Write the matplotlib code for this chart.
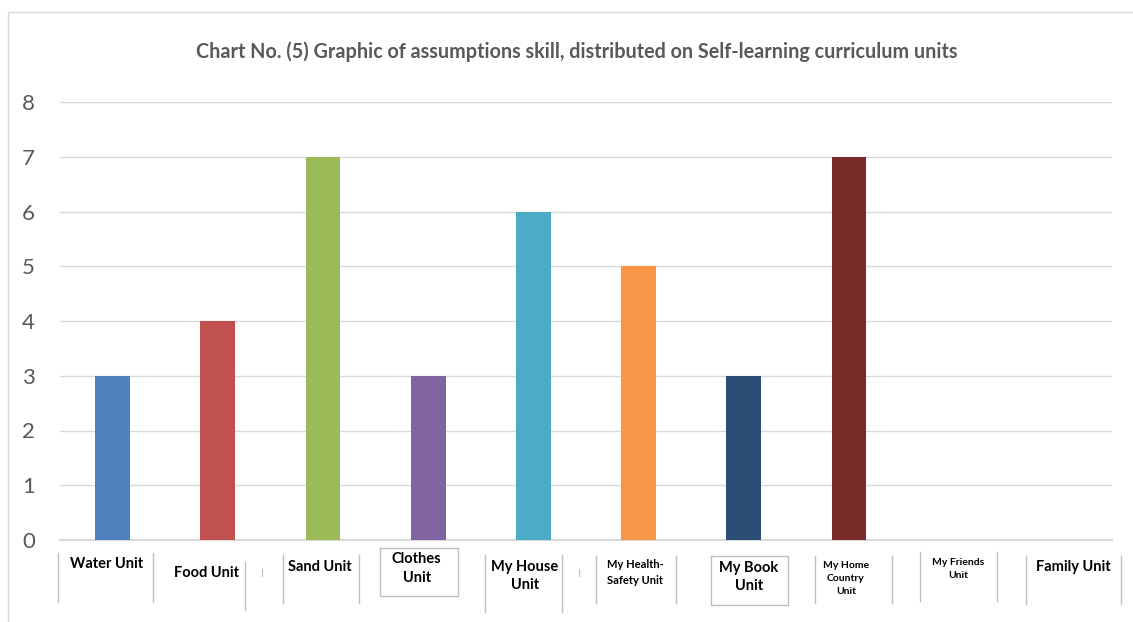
import matplotlib
matplotlib.use("Agg")
import matplotlib.pyplot as plt
from matplotlib.transforms import blended_transform_factory
from matplotlib.patches import Rectangle
from matplotlib.lines import Line2D

categories = ["Water Unit", "Food Unit", "Sand Unit", "Clothes\nUnit", "My House\nUnit",
              "My Health-\nSafety Unit", "My Book\nUnit", "My Home\nCountry\nUnit",
              "My Friends\nUnit", "Family Unit"]
values = [3, 4, 7, 3, 6, 5, 3, 7, 0, 0]
colors = ["#4F81BD", "#C0504D", "#9BBB59", "#8064A2", "#4BACC6", "#F79646",
          "#2C4D75", "#772C2A", "#4F81BD", "#C0504D"]
yticks = [0, 1, 2, 3, 4, 5, 6, 7, 8]
title = "Chart No. (5) Graphic of assumptions skill, distributed on Self-learning curriculum units"

W, H = 1133, 622
fig = plt.figure(figsize=(W / 100, H / 100), dpi=100)
fam = ["Lato", "DejaVu Sans"]

# outer chart frame
fig.add_artist(Rectangle((8 / W, -0.1), 1.2, (H - 12) / H + 0.1, transform=fig.transFigure,
                         fill=False, edgecolor="#d9d9d9", linewidth=1.0))

ax = fig.add_axes([60 / W, (H - 540) / H, 1052 / W, 438 / H])
x = list(range(len(categories)))
ax.bar(x, values, width=0.33, color=colors, zorder=3)
ax.set_xlim(-0.5, len(categories) - 0.5)
ax.set_ylim(0, 8)
ax.set_yticks(yticks)
ax.set_yticklabels([str(t) for t in yticks], fontsize=16, color="#595959", family=fam)
ax.tick_params(axis="y", length=0, pad=18)
ax.tick_params(axis="x", length=0, labelbottom=False)
ax.grid(axis="y", color="#d9d9d9", linewidth=1.0, zorder=0)
for s in ["top", "right", "left"]:
    ax.spines[s].set_visible(False)
ax.spines["bottom"].set_color("#d9d9d9")
ax.spines["bottom"].set_linewidth(1.5)

fig.text(577 / W, 1 - 52 / H, title, ha="center", va="center", fontsize=14.2,
         fontweight="bold", color="#595959", family=fam)

# custom category labels (pixel y positions / x offsets in data units)
tr = blended_transform_factory(ax.transData, fig.transFigure)
def fy(py):
    return 1 - py / H

label_specs = [
    # (x offset, y pixel top, fontsize, linespacing)
    (-0.06, 557, 10.5, 1.4),
    (-0.11, 566, 10.5, 1.4),
    (-0.03, 560, 10.5, 1.4),
    (-0.11, 552, 10.5, 1.5),
    (-0.08, 560, 10.5, 1.4),
    (-0.03, 559, 8, 1.5),
    (0.05, 561, 10.5, 1.4),
    (-0.03, 561, 7.5, 1.55),
    (0.04, 558, 7.5, 1.5),
    (0.13, 560, 10.5, 1.4),
]
for i, (lab, (dx, py, fs, ls)) in enumerate(zip(categories, label_specs)):
    ax.text(x[i] + dx, fy(py), lab, transform=tr, ha="center", va="top",
            fontsize=fs, fontweight="bold", color="black", family=fam,
            linespacing=ls, clip_on=False)

ppx = 1052 / len(categories)
def dxpix(px):
    return (px - 60) / ppx - 0.5

# separator lines (x pixel, y0, y1)
seps = [(58, 553, 602), (153, 553, 602), (245, 562, 610), (283, 555, 603), (359, 555, 603),
        (485, 555, 612), (562, 555, 612), (596, 556, 603), (676, 556, 603),
        (815, 556, 603), (892, 556, 603), (920, 552, 601), (997, 552, 601),
        (1026, 556, 604), (1121, 556, 604)]
for px, y0, y1 in seps:
    ax.add_line(Line2D([dxpix(px)] * 2, [fy(y0), fy(y1)], transform=tr,
                       color="#bfbfbf", linewidth=1.0, clip_on=False))
for px, y0, y1 in [(262, 569, 576), (579, 569, 576)]:
    ax.add_line(Line2D([dxpix(px)] * 2, [fy(y0), fy(y1)], transform=tr,
                       color="#bfbfbf", linewidth=0.8, clip_on=False))
# boxes
for x0, x1, y0, y1 in [(380, 458, 548, 596), (711, 788, 556, 605)]:
    xs = [dxpix(x0), dxpix(x0), dxpix(x1), dxpix(x1), dxpix(x0)]
    ys = [fy(y0), fy(y1), fy(y1), fy(y0), fy(y0)]
    ax.add_line(Line2D(xs, ys, transform=tr, color="#bfbfbf", linewidth=1.0, clip_on=False))

fig.savefig("out.png", dpi=100)
